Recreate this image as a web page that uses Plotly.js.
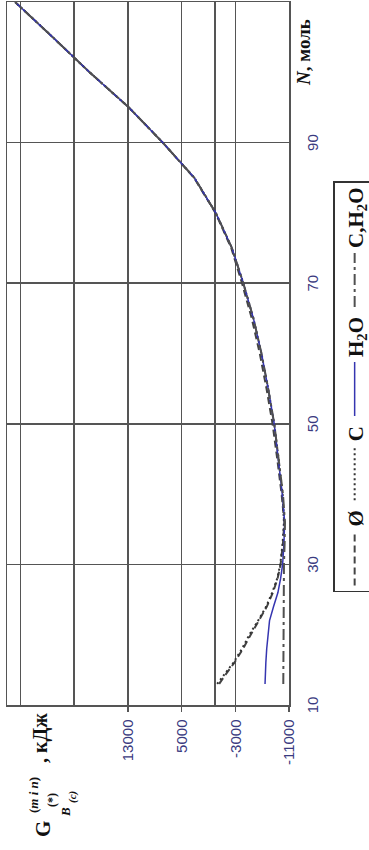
<!DOCTYPE html>
<html>
<head>
<meta charset="utf-8">
<script src="https://cdn.plot.ly/plotly-3.0.1.min.js"></script>
<style>
html,body{margin:0;padding:0;background:#fff;overflow:hidden;}
#wrap{position:absolute;left:0;top:0;width:369px;height:850px;overflow:hidden;background:#fff;}
#chart{position:absolute;left:0;top:0;width:850px;height:369px;transform-origin:0 0;transform:translate(0px,850px) rotate(-90deg);}
</style>
</head>
<body>
<div id="wrap"><div id="chart"></div></div>
<script>
// N, моль
var N = [13, 14, 16, 18, 20, 22, 24, 26, 28, 30, 33, 36, 40, 45, 50, 55, 60, 65, 70, 75, 80, 85, 90, 95, 100, 105, 110];
// G, кДж for each set
var gEmpty = [-600, -1300, -2850, -4150, -5300, -6550, -7700, -8600, -9300, -9750, -10100, -10300, -9900, -9250, -8550, -7650, -6650, -5450, -4000, -2400, -50, 3150, 7800, 12850, 18700, 24200, 29800];
var gC     = [-300, -1100, -2700, -4000, -5100, -6400, -7600, -8500, -9250, -9700, -10050, -10250, -10050, -9450, -8800, -7900, -6900, -5700, -4200, -2500, -100, 3100, 7800, 12850, 18700, 24200, 29800];
var gH2O   = [-7430, -7450, -7550, -7680, -7850, -8100, -8700, -9350, -9750, -10050, -10250, -10350, -10000, -9450, -8800, -7900, -6900, -5700, -4200, -2500, -100, 3100, 7800, 12850, 18700, 24200, 29800];
var gCH2O  = [-10150, -10150, -10150, -10150, -10150, -10150, -10200, -10200, -10200, -10250, -10350, -10400, -10100, -9500, -8800, -7900, -6900, -5700, -4200, -2500, -100, 3100, 7800, 12850, 18700, 24200, 29800];
var names = ['<b>Ø</b>', '<b>C</b>', '<b>H<sub>2</sub>O</b>', '<b>C,H<sub>2</sub>O</b>'];
var nTickVals = [10, 30, 50, 70, 90];
var gTickVals = [-11000, -3000, 5000, 13000];
var gTickText = ['-11000', '-3000', '5000', '13000'];
var gGridStep = 8000;

var traces = [
  {x: N, y: gEmpty, name: names[0], mode: 'lines', line: {color: '#444444', width: 2, dash: '7px,4px'}},
  {x: N, y: gC, name: names[1], mode: 'lines', line: {color: '#333333', width: 2, dash: '2px,3px'}},
  {x: N, y: gH2O, name: names[2], mode: 'lines', line: {color: '#3535b0', width: 1.5}},
  {x: N, y: gCH2O, name: names[3], mode: 'lines', line: {color: '#505050', width: 2, dash: '11px,4px,3px,4px'}}
];

function px(u){return (u-145)/703;}
function py(v){return (289-v)/282;}
var serif = 'Liberation Serif, Times New Roman, serif';
function ann(u, v, text, size){
  return {xref:'paper', yref:'paper', x:px(u), y:py(v), text:text, showarrow:false,
          xanchor:'center', yanchor:'middle', font:{family:serif, size:size, color:'#111'}};
}

var layout = {
  width: 850, height: 369,
  margin: {l:145, r:2, t:7, b:80, autoexpand:false},
  paper_bgcolor: '#ffffff', plot_bgcolor: '#ffffff',
  showlegend: true,
  legend: {orientation:'h', x:px(258), xanchor:'left', y:py(333), yanchor:'top',
           bordercolor:'#333', borderwidth:1.5, bgcolor:'#fff',
           font:{family:serif, size:21, color:'#111'}, itemwidth:54},
  xaxis: {range:[10,110], tickvals:nTickVals, showgrid:true, gridcolor:'#555', gridwidth:1.5,
          showline:true, mirror:true, linecolor:'#555', linewidth:1.5, zeroline:false,
          ticks:'', ticklabelstandoff:9,
          tickfont:{family:'Liberation Sans, Arial, sans-serif', size:15, color:'#3a3a80'}},
  yaxis: {range:[-11000,31000], tickvals:gTickVals, ticktext:gTickText, showgrid:true,
          gridcolor:'#555', gridwidth:1.5, showline:true, mirror:true, linecolor:'#555', linewidth:1.5,
          minor:{tick0:-11000, dtick:gGridStep, showgrid:true, gridcolor:'#555', gridwidth:1.5, ticks:''},
          zeroline:true, zerolinecolor:'#555', zerolinewidth:1.5,
          ticks:'outside', ticklen:5, tickcolor:'#555', tickwidth:1.5, ticklabelstandoff:5,
          tickfont:{family:'Liberation Sans, Arial, sans-serif', size:15, color:'#3a3a80'}},
  annotations: [
    ann(21, 43, '<b>G</b>', 21),
    ann(55, 33, '<b>(<i>m i n</i>)</b>', 13),
    ann(50, 52, '<b>(*)</b>', 12),
    ann(38, 65, '<b><i>B</i></b>', 13),
    ann(53, 72, '<b><i>(c)</i></b>', 11),
    ann(112, 40, '<b>, кДж</b>', 20),
    ann(797, 303, '<b><i>N</i>, моль</b>', 19)
  ]
};

Plotly.newPlot('chart', traces, layout, {staticPlot:true, displayModeBar:false});
</script>
</body>
</html>
